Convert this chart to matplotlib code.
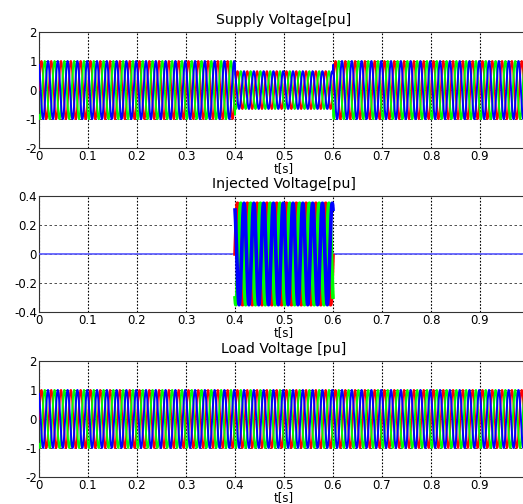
import numpy as np
import matplotlib.pyplot as plt

plt.rcParams['font.family'] = ['DejaVu Sans']
plt.rcParams['font.size'] = 8.5

# signal parameters
freq_hz = 50.0
phase_deg = [0, -120, 120]
phase_colors = ['#ff0000', '#00ff00', '#0000ff']

# piecewise amplitude: segment edges [s] and amplitude in each segment [pu]
seg_edges = [0.0, 0.4, 0.6, 1.0]
supply_amp = [1.0, 0.65, 1.0]
injected_amp = [0.0, 0.35, 0.0]
load_amp = [1.0, 1.0, 1.0]

titles = ['Supply Voltage[pu]', 'Injected Voltage[pu]', 'Load Voltage [pu]']
ylims = [(-2, 2), (-0.4, 0.4), (-2, 2)]
yticks = [[-2, -1, 0, 1, 2], [-0.4, -0.2, 0, 0.2, 0.4], [-2, -1, 0, 1, 2]]
yticklabels = [['-2', '-1', '0', '1', '2'],
               ['-0.4', '-0.2', '0', '0.2', '0.4'],
               ['-2', '-1', '0', '1', '2']]
xticks = [0, 0.1, 0.2, 0.3, 0.4, 0.5, 0.6, 0.7, 0.8, 0.9]
xticklabels = ['0', '0.1', '0.2', '0.3', '0.4', '0.5', '0.6', '0.7', '0.8', '0.9']

t = np.arange(0, 1.0, 1e-4)


def envelope(amps):
    env = np.zeros_like(t)
    for i, a in enumerate(amps):
        m = (t >= seg_edges[i]) & (t < seg_edges[i + 1])
        env[m] = a
    return env


fig = plt.figure(figsize=(5.23, 5.04), dpi=100)
positions = [[0.0746, 0.706, 0.937, 0.2306],
             [0.0746, 0.381, 0.937, 0.2302],
             [0.0746, 0.0536, 0.937, 0.2302]]

for k, amps in enumerate([supply_amp, injected_amp, load_amp]):
    ax = fig.add_axes(positions[k])
    env = envelope(amps)
    if k == 1:
        # idle injection: thin blue zero line, active part drawn heavier
        ax.plot(t, env * 0, color='#5a5aff', lw=1.2, zorder=3)
        act = env > 0
        for ph, c in zip(phase_deg, phase_colors):
            y = env * np.sin(2 * np.pi * freq_hz * t + np.deg2rad(ph))
            ax.plot(t[act], y[act], color=c, lw=2.6, zorder=4)
    else:
        for ph, c in zip(phase_deg, phase_colors):
            ax.plot(t, env * np.sin(2 * np.pi * freq_hz * t + np.deg2rad(ph)), color=c, lw=1.4, zorder=3)
    ax.set_xlim(0, 1)
    ax.set_ylim(*ylims[k])
    ax.set_xticks(xticks)
    ax.set_xticklabels(xticklabels)
    ax.set_yticks(yticks[k])
    ax.set_yticklabels(yticklabels[k])
    ax.tick_params(direction='in', length=0, pad=1.5)
    ax.xaxis.grid(True, color='black', ls=(0, (1.5, 1.5)), lw=0.8, zorder=1)
    ax.yaxis.grid(True, color='#333333', ls=(0, (3, 3)), lw=0.6, zorder=1)
    ax.set_title(titles[k], pad=6)
    ax.set_xlabel('t[s]', labelpad=-1)
    for s in ax.spines.values():
        s.set_linewidth(0.8)
        s.set_color('#333333')

fig.savefig('out.png', dpi=100)
